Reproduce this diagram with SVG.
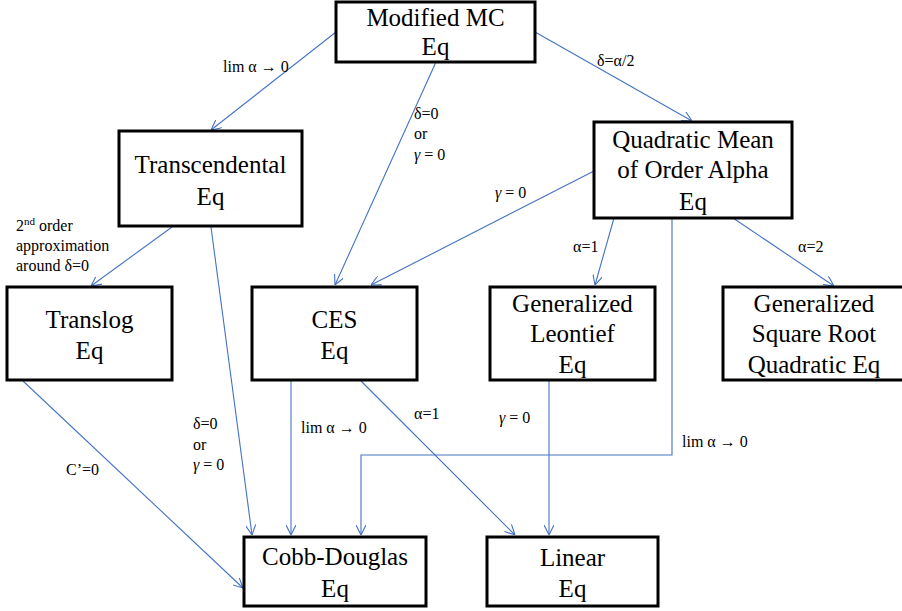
<svg xmlns="http://www.w3.org/2000/svg" width="902" height="611" viewBox="0 0 902 611" font-family="Liberation Serif, Tinos, Times New Roman, DejaVu Serif, Noto Serif, FreeSerif, serif">
<style>
.box{fill:#fff;stroke:#000;stroke-width:3}
.nt{font-size:25px;fill:#000;text-anchor:middle}
.lb{font-size:16px;fill:#000}
.it{font-style:italic}
.cn{fill:none;stroke:#4472C4;stroke-width:1.1;marker-end:url(#ah)}
</style>
<defs>
<marker id="ah" viewBox="0 0 10 10" refX="10" refY="5" markerWidth="10" markerHeight="10" markerUnits="userSpaceOnUse" orient="auto">
<path d="M0,0 L10,5 L0,10" fill="none" stroke="#4472C4" stroke-width="1.1"/>
</marker>
</defs>
<rect width="902" height="611" fill="#fff"/>
<g id="connectors">
<line class="cn" x1="336" y1="32" x2="211" y2="130"/>
<line class="cn" x1="436" y1="62" x2="335" y2="285"/>
<line class="cn" x1="535" y1="32" x2="692" y2="121"/>
<line class="cn" x1="594" y1="171" x2="371" y2="285"/>
<line class="cn" x1="614" y1="218" x2="595" y2="285"/>
<line class="cn" x1="733" y1="218" x2="834" y2="286"/>
<polyline class="cn" points="672,218 672,455 361,455 361,535"/>
<line class="cn" x1="172" y1="227" x2="91" y2="286"/>
<line class="cn" x1="211" y1="227" x2="252" y2="535"/>
<line class="cn" x1="23" y1="381" x2="243" y2="588"/>
<line class="cn" x1="291" y1="381" x2="291" y2="535"/>
<line class="cn" x1="361" y1="381" x2="515" y2="535"/>
<line class="cn" x1="549" y1="381" x2="549" y2="535"/>
</g>
<g id="labels">
<text class="lb" x="223" y="72">lim α → 0</text>
<text class="lb" x="597" y="66">δ=α/2</text>
<text class="lb" x="414" y="119">δ=0</text>
<text class="lb" x="414" y="139">or</text>
<text class="lb" x="414" y="160"><tspan class="it">γ</tspan> = 0</text>
<text class="lb" x="495" y="198"><tspan class="it">γ</tspan> = 0</text>
<text class="lb" x="573" y="252">α=1</text>
<text class="lb" x="798" y="252">α=2</text>
<text class="lb" x="16" y="231">2<tspan font-size="11" dy="-6">nd</tspan><tspan dy="6"> order</tspan></text>
<text class="lb" x="16" y="251">approximation</text>
<text class="lb" x="16" y="271">around δ=0</text>
<text class="lb" x="193" y="429">δ=0</text>
<text class="lb" x="193" y="450">or</text>
<text class="lb" x="193" y="470"><tspan class="it">γ</tspan> = 0</text>
<text class="lb" x="66" y="475">C’=0</text>
<text class="lb" x="301" y="433">lim α → 0</text>
<text class="lb" x="414" y="419">α=1</text>
<text class="lb" x="499" y="423"><tspan class="it">γ</tspan> = 0</text>
<text class="lb" x="682" y="447">lim α → 0</text>
</g>
<g id="modified-mc">
<rect class="box" x="336" y="2" width="199" height="60"/>
<text class="nt" x="435.5" y="26">Modified MC</text>
<text class="nt" x="435.5" y="55">Eq</text>
</g>
<g id="transcendental">
<rect class="box" x="119" y="131" width="183" height="95"/>
<text class="nt" x="210.5" y="173">Transcendental</text>
<text class="nt" x="210.5" y="205">Eq</text>
</g>
<g id="quadratic-mean">
<rect class="box" x="594" y="122" width="198" height="96"/>
<text class="nt" x="693" y="148">Quadratic Mean</text>
<text class="nt" x="693" y="178">of Order Alpha</text>
<text class="nt" x="693" y="210">Eq</text>
</g>
<g id="translog">
<rect class="box" x="7" y="287" width="165" height="93"/>
<text class="nt" x="89.5" y="328">Translog</text>
<text class="nt" x="89.5" y="359">Eq</text>
</g>
<g id="ces">
<rect class="box" x="252" y="287" width="165" height="93"/>
<text class="nt" x="334.5" y="328">CES</text>
<text class="nt" x="334.5" y="359">Eq</text>
</g>
<g id="generalized-leontief">
<rect class="box" x="490" y="287" width="165" height="93"/>
<text class="nt" x="572.5" y="312">Generalized</text>
<text class="nt" x="572.5" y="342">Leontief</text>
<text class="nt" x="572.5" y="373">Eq</text>
</g>
<g id="generalized-square-root">
<rect class="box" x="723" y="287" width="182" height="93"/>
<text class="nt" x="814" y="312">Generalized</text>
<text class="nt" x="814" y="342">Square Root</text>
<text class="nt" x="814" y="373">Quadratic Eq</text>
</g>
<g id="cobb-douglas">
<rect class="box" x="244" y="537" width="182" height="69"/>
<text class="nt" x="335" y="565">Cobb-Douglas</text>
<text class="nt" x="335" y="597">Eq</text>
</g>
<g id="linear">
<rect class="box" x="487" y="537" width="171" height="69"/>
<text class="nt" x="572.5" y="566">Linear</text>
<text class="nt" x="572.5" y="597">Eq</text>
</g>
</svg>
